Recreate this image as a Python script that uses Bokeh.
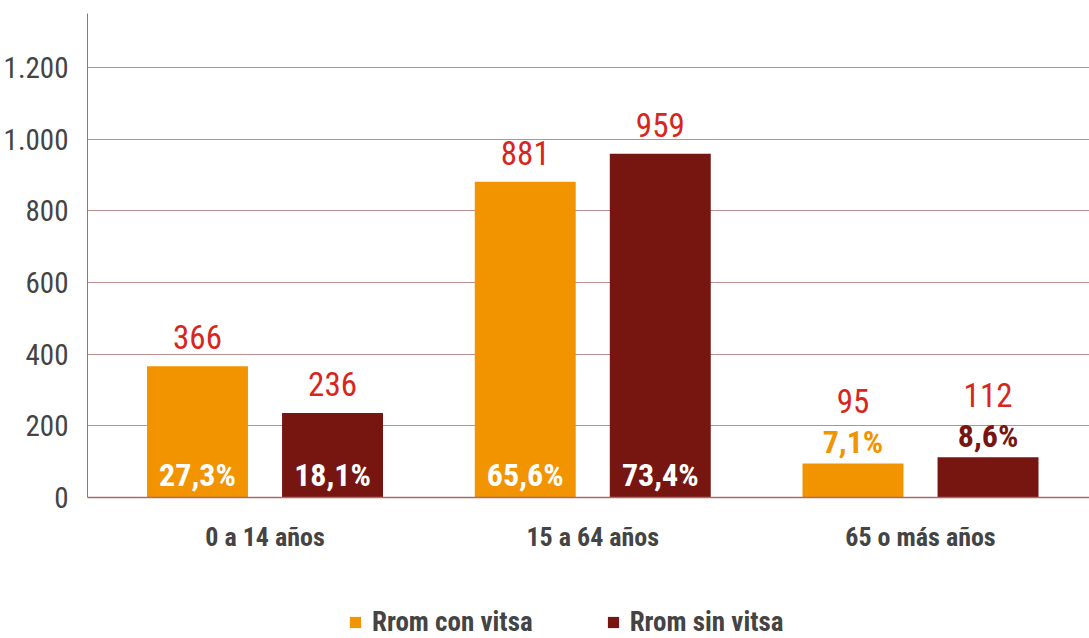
from bokeh.plotting import figure
from bokeh.models import ColumnDataSource, FixedTicker, Legend, LegendItem, Span
from bokeh.core.properties import value
from bokeh.embed import file_html
from bokeh.resources import INLINE

categories = ["0 a 14 años", "15 a 64 años", "65 o más años"]
series_names = ["Rrom con vitsa", "Rrom sin vitsa"]
con_vitsa = [366, 881, 95]
sin_vitsa = [236, 959, 112]
con_pct = ["27,3%", "65,6%", "7,1%"]
sin_pct = ["18,1%", "73,4%", "8,6%"]
y_ticks = [0, 200, 400, 600, 800, 1000, 1200]
y_tick_labels = ["0", "200", "400", "600", "800", "1.000", "1.200"]

ORANGE = "#f29400"
DARK = "#771611"
RED = "#d7261e"
GRAY = "#444444"
AXIS = "#a86a6a"
FONT = "'Roboto Condensed', 'DejaVu Sans Condensed', sans-serif"

Y_TOP = 1350.7
Y_BOTTOM = -393.5

p = figure(output_backend="svg", toolbar_location=None,
           width=1089, height=638,
           frame_width=1002, frame_height=625,
           x_range=(-0.5416, 2.5156), y_range=(Y_BOTTOM, Y_TOP),
           min_border_left=83, min_border_right=0,
           min_border_top=13, min_border_bottom=0)
p.outline_line_color = None
p.background_fill_color = "white"
p.xgrid.grid_line_color = None
p.ygrid.grid_line_color = "#bf8e8e"
p.ygrid.grid_line_width = 1
p.ygrid.ticker = FixedTicker(ticks=y_ticks)

p.yaxis.ticker = FixedTicker(ticks=y_ticks)
p.yaxis.bounds = (0, Y_TOP)
p.yaxis.major_label_overrides = {t: l for t, l in zip(y_ticks, y_tick_labels)}
p.yaxis.axis_line_color = AXIS
p.yaxis.major_tick_line_color = None
p.yaxis.minor_tick_line_color = None
p.yaxis.major_label_text_font = FONT
p.yaxis.major_label_text_font_size = "29px"
p.yaxis.major_label_text_color = GRAY
p.yaxis.major_label_standoff = 13

p.xaxis.visible = False
p.add_layout(Span(location=0, dimension="width", line_color=AXIS, line_width=1.5))

xs = list(range(len(categories)))
csrc = ColumnDataSource(dict(x=xs, y=[0] * len(xs), t=categories))
p.text(x="x", y="y", text="t", y_offset=40, source=csrc, text_color=GRAY,
       text_align="center", text_baseline="middle",
       text_font=value(FONT), text_font_style="bold", text_font_size="26px")

off = 0.206
bw = 0.308
renderers = []
for vals, pcts, color, sign in [(con_vitsa, con_pct, ORANGE, -1), (sin_vitsa, sin_pct, DARK, 1)]:
    x = [i + sign * off for i in xs]
    src = ColumnDataSource(dict(x=x, top=vals))
    r = p.vbar(x="x", top="top", bottom=0, width=bw, source=src, fill_color=color, line_color=None)
    renderers.append(r)
    inside = [v >= 150 for v in vals]
    # percentage labels
    py = [0 if ins else v for v, ins in zip(vals, inside)]
    poff = [-22.5 if ins else -21.5 for ins in inside]
    pcol = ["white" if ins else color for ins in inside]
    psrc = ColumnDataSource(dict(x=x, y=py, t=pcts, yo=poff, c=pcol))
    p.text(x="x", y="y", text="t", y_offset="yo", text_color="c", source=psrc,
           text_align="center", text_baseline="middle",
           text_font=value(FONT), text_font_style="bold", text_font_size="32px")
    # value labels
    voff = [-29 if ins else -62 for ins in inside]
    vsrc = ColumnDataSource(dict(x=x, y=vals, t=[str(v) for v in vals], yo=voff))
    p.text(x="x", y="y", text="t", y_offset="yo", source=vsrc, text_color=RED,
           text_align="center", text_baseline="middle",
           text_font=value(FONT), text_font_size="33px")

leg = Legend(items=[LegendItem(label=n, renderers=[r]) for n, r in zip(series_names, renderers)],
             location=(261, 0), orientation="horizontal",
             padding=0, margin=0, spacing=73, border_line_color=None,
             background_fill_alpha=0, glyph_width=14, glyph_height=14,
             label_standoff=10, label_text_font=FONT,
             label_text_font_style="bold", label_text_font_size="27px",
             label_text_color=GRAY)
p.add_layout(leg)

open("out.html", "w").write(file_html(p, INLINE))
